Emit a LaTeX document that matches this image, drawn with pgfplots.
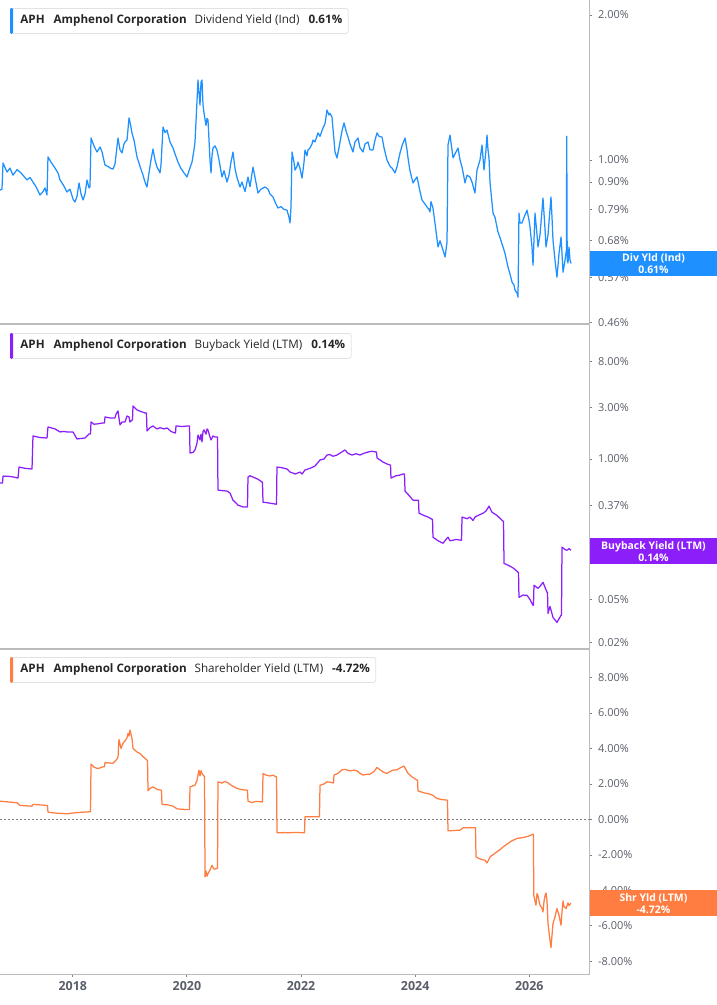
\documentclass[border=0pt]{standalone}
\usepackage{pgfplots}
\pgfplotsset{compat=1.18}
\usepackage{fontspec}
\setmainfont{Open Sans}

\definecolor{divblue}{RGB}{30,144,255}
\definecolor{bbpurple}{RGB}{140,30,250}
\definecolor{shorange}{RGB}{255,125,65}
\definecolor{axisgray}{RGB}{188,188,188}
\definecolor{labgray}{RGB}{90,94,105}
\definecolor{legline}{RGB}{226,226,230}

\pgfplotsset{
  panel/.style={
    scale only axis,
    width=589.5bp,
    xmin=2016.724, xmax=2027.055,
    axis x line=bottom, axis y line=right,
    axis line style={draw=axisgray, line width=1.2bp, -},
    tick align=outside,
    major tick length=2.5bp,
    tick style={draw=gray, line width=0.9bp},
    yticklabel style={font=\fontsize{11}{12}\selectfont, text=labgray, inner sep=0pt, anchor=west, xshift=6bp},
    xticklabel style={font=\bfseries\fontsize{12.5}{14}\selectfont, text=labgray, inner sep=0pt, yshift=-4bp},
    yminorticks=false,
    xtick=\empty,
    clip=false,
  },
  series/.style={line width=1.25bp, line join=round},
}
\tikzset{
  legbox/.style={draw=legline, fill=white, line width=0.8bp, rounded corners=2.5bp,
    inner xsep=0pt, minimum height=25bp, anchor=north west,
    font=\fontsize{11.7}{14}\selectfont, text=black!85},
  valbox/.style={anchor=west, minimum width=127.5bp, minimum height=25.5bp, inner sep=0pt,
    text=white, font=\bfseries\fontsize{10.5}{12}\selectfont, align=center},
}

\begin{document}
\begin{tikzpicture}
\useasboundingbox (0,0) rectangle (717bp,-1005bp);

% ---- dividend yield
\begin{axis}[panel, at={(0bp,0bp)}, anchor=north west, height=324bp,
  ymode=log, ymin=0.4566, ymax=2.1487,
  ytick={0.46,0.57,0.68,0.79,0.9,1,2},
  yticklabels={0.46\%,0.57\%,0.68\%,0.79\%,0.90\%,1.00\%,2.00\%}]
\addplot[series, divblue] coordinates {
(2016.724,0.866) (2016.759,0.870) (2016.777,0.986) (2016.847,0.944) (2016.899,0.962)
(2016.952,0.930) (2017.022,0.955) (2017.075,0.944) (2017.127,0.930) (2017.197,0.909)
(2017.250,0.920) (2017.302,0.900) (2017.355,0.880) (2017.425,0.846) (2017.478,0.860)
(2017.513,0.875) (2017.548,0.846) (2017.565,1.015) (2017.618,0.990) (2017.688,0.962)
(2017.741,0.940) (2017.776,0.909) (2017.828,0.890) (2017.898,0.858) (2017.951,0.870)
(2018.003,0.830) (2018.038,0.818) (2018.073,0.840) (2018.109,0.896) (2018.144,0.850)
(2018.179,0.826) (2018.214,0.850) (2018.249,0.909) (2018.284,0.875) (2018.301,0.880)
(2018.319,1.111) (2018.371,1.070) (2018.424,1.039) (2018.477,1.064) (2018.512,1.040)
(2018.564,0.976) (2018.617,0.970) (2018.669,0.960) (2018.704,0.958) (2018.739,0.980)
(2018.792,1.111) (2018.827,1.050) (2018.862,1.034) (2018.897,1.080) (2018.915,1.090)
(2018.950,1.100) (2018.985,1.223) (2019.002,1.200) (2019.037,1.138) (2019.072,1.100)
(2019.125,1.015) (2019.178,0.970) (2019.230,0.930) (2019.265,0.900) (2019.300,0.879)
(2019.335,0.940) (2019.370,1.000) (2019.405,1.054) (2019.440,1.000) (2019.475,0.967)
(2019.510,0.950) (2019.528,0.940) (2019.546,0.980) (2019.581,1.171) (2019.616,1.140)
(2019.651,1.154) (2019.703,1.090) (2019.756,1.059) (2019.791,1.030) (2019.843,0.990)
(2019.896,0.960) (2019.949,0.940) (2020.001,0.922) (2020.036,0.950) (2020.089,0.990)
(2020.124,1.050) (2020.141,1.090) (2020.159,1.200) (2020.194,1.466) (2020.211,1.380)
(2020.229,1.300) (2020.247,1.450) (2020.264,1.466) (2020.282,1.300) (2020.299,1.252)
(2020.334,1.180) (2020.352,1.220) (2020.369,1.211) (2020.387,1.100) (2020.404,1.000)
(2020.422,0.940) (2020.439,1.020) (2020.457,1.059) (2020.492,1.070) (2020.527,1.049)
(2020.562,1.000) (2020.615,0.922) (2020.650,0.950) (2020.702,0.900) (2020.737,0.930)
(2020.772,0.990) (2020.807,1.039) (2020.842,0.960) (2020.877,0.920) (2020.930,0.879)
(2020.965,0.900) (2021.018,0.860) (2021.070,0.922) (2021.105,0.880) (2021.158,0.967)
(2021.193,0.920) (2021.245,0.854) (2021.298,0.870) (2021.368,0.879) (2021.421,0.870)
(2021.456,0.850) (2021.508,0.838) (2021.561,0.810) (2021.596,0.795) (2021.649,0.800)
(2021.701,0.790) (2021.754,0.787) (2021.789,0.760) (2021.806,0.740) (2021.824,0.800)
(2021.841,1.039) (2021.876,0.990) (2021.894,0.953) (2021.929,0.970) (2021.946,0.990)
(2021.982,0.960) (2022.017,0.917) (2022.052,0.990) (2022.069,1.049) (2022.104,1.020)
(2022.122,1.050) (2022.157,1.059) (2022.192,1.080) (2022.209,1.100) (2022.244,1.090)
(2022.297,1.138) (2022.332,1.120) (2022.385,1.166) (2022.420,1.190) (2022.455,1.270)
(2022.490,1.240) (2022.507,1.250) (2022.542,1.228) (2022.577,1.100) (2022.595,1.039)
(2022.630,1.010) (2022.665,1.060) (2022.683,1.090) (2022.718,1.150) (2022.753,1.194)
(2022.788,1.150) (2022.823,1.116) (2022.858,1.080) (2022.910,1.039) (2022.945,1.090)
(2022.998,1.111) (2023.033,1.060) (2023.086,1.039) (2023.121,1.080) (2023.173,1.090)
(2023.208,1.050) (2023.261,1.049) (2023.296,1.100) (2023.331,1.138) (2023.366,1.120)
(2023.419,1.116) (2023.454,1.060) (2023.506,1.000) (2023.559,0.970) (2023.594,0.962)
(2023.646,0.940) (2023.681,0.967) (2023.734,1.034) (2023.769,1.070) (2023.822,1.111)
(2023.857,1.050) (2023.874,1.010) (2023.909,0.950) (2023.962,0.896) (2023.997,0.910)
(2024.032,0.922) (2024.085,0.860) (2024.120,0.826) (2024.172,0.810) (2024.207,0.799)
(2024.242,0.790) (2024.260,0.780) (2024.277,0.820) (2024.312,0.795) (2024.347,0.740)
(2024.400,0.660) (2024.435,0.680) (2024.470,0.660) (2024.505,0.640) (2024.523,0.629)
(2024.540,0.650) (2024.558,0.676) (2024.575,1.074) (2024.610,1.127) (2024.645,1.050)
(2024.663,1.010) (2024.698,1.030) (2024.751,1.059) (2024.786,1.000) (2024.821,0.967)
(2024.856,0.920) (2024.873,0.896) (2024.908,0.930) (2024.961,0.922) (2024.996,0.900)
(2025.048,0.854) (2025.083,0.953) (2025.136,1.000) (2025.171,1.074) (2025.206,0.953)
(2025.241,1.050) (2025.259,1.127) (2025.276,1.050) (2025.294,1.010) (2025.311,0.900)
(2025.364,0.776) (2025.399,0.760) (2025.451,0.709) (2025.487,0.690) (2025.539,0.660)
(2025.574,0.640) (2025.627,0.599) (2025.662,0.580) (2025.697,0.558) (2025.732,0.550)
(2025.749,0.537) (2025.784,0.530) (2025.802,0.519) (2025.819,0.776) (2025.837,0.740)
(2025.872,0.740) (2025.907,0.760) (2025.960,0.787) (2025.995,0.750) (2026.012,0.726)
(2026.047,0.660) (2026.065,0.605) (2026.100,0.776) (2026.135,0.700) (2026.152,0.660)
(2026.188,0.700) (2026.240,0.834) (2026.275,0.720) (2026.293,0.660) (2026.328,0.700)
(2026.380,0.838) (2026.398,0.760) (2026.415,0.682) (2026.450,0.620) (2026.485,0.571)
(2026.521,0.640) (2026.556,0.692) (2026.573,0.640) (2026.591,0.585) (2026.626,0.620)
(2026.650,0.650) (2026.656,1.120) (2026.664,0.620) (2026.678,0.611) (2026.696,0.660)
(2026.713,0.620) (2026.731,0.610)
};
\coordinate (lab1) at (axis cs:2027.055,0.61);
\end{axis}

% ---- buyback yield
\begin{axis}[panel, at={(0bp,-324bp)}, anchor=north west, height=325bp,
  ymode=log, ymin=0.01741, ymax=17.79,
  ytick={0.02,0.05,0.14,0.37,1,3,8},
  yticklabels={0.02\%,0.05\%,0.14\%,0.37\%,1.00\%,3.00\%,8.00\%}]
\addplot[series, bbpurple] coordinates {
(2016.724,0.599) (2016.768,0.600) (2016.777,0.695) (2016.899,0.690) (2016.969,0.680)
(2017.040,0.666) (2017.057,0.843) (2017.162,0.820) (2017.285,0.808) (2017.302,1.635)
(2017.425,1.580) (2017.548,1.566) (2017.565,1.981) (2017.688,1.900) (2017.776,1.781)
(2017.846,1.800) (2017.898,1.781) (2018.003,1.781) (2018.073,1.533) (2018.144,1.550)
(2018.214,1.566) (2018.284,1.706) (2018.310,1.706) (2018.319,2.205) (2018.371,2.100)
(2018.424,2.113) (2018.529,2.158) (2018.555,2.160) (2018.564,2.453) (2018.652,2.400)
(2018.739,2.401) (2018.757,2.600) (2018.792,2.789) (2018.809,2.400) (2018.827,2.068)
(2018.862,2.200) (2018.915,2.205) (2018.950,2.500) (2018.985,2.453) (2019.002,2.200)
(2019.037,2.301) (2019.046,2.300) (2019.055,3.103) (2019.125,2.849) (2019.195,2.750)
(2019.265,2.672) (2019.291,2.670) (2019.300,1.819) (2019.353,1.950) (2019.405,2.024)
(2019.475,1.898) (2019.528,1.950) (2019.598,1.900) (2019.651,1.939) (2019.721,1.800)
(2019.791,1.743) (2019.800,1.745) (2019.808,2.024) (2019.914,2.000) (2020.019,2.024)
(2020.045,2.020) (2020.054,1.137) (2020.106,1.150) (2020.141,1.212) (2020.176,1.400)
(2020.194,1.670) (2020.229,1.500) (2020.247,1.700) (2020.264,1.438) (2020.282,1.800)
(2020.299,1.858) (2020.334,1.700) (2020.352,1.900) (2020.369,1.858) (2020.404,1.600)
(2020.422,1.501) (2020.457,1.635) (2020.492,1.600) (2020.527,1.600) (2020.536,1.600)
(2020.544,0.516) (2020.615,0.510) (2020.702,0.505) (2020.755,0.484) (2020.807,0.416)
(2020.842,0.400) (2020.895,0.374) (2020.983,0.360) (2021.053,0.359) (2021.061,0.360)
(2021.070,0.681) (2021.105,0.700) (2021.158,0.681) (2021.245,0.650) (2021.316,0.612)
(2021.324,0.610) (2021.333,0.399) (2021.456,0.390) (2021.561,0.382) (2021.570,0.382)
(2021.578,0.843) (2021.666,0.830) (2021.754,0.808) (2021.806,0.757) (2021.859,0.741)
(2021.894,0.726) (2021.982,0.757) (2022.017,0.726) (2022.069,0.791) (2022.157,0.820)
(2022.244,0.861) (2022.332,0.979) (2022.402,1.000) (2022.455,1.089) (2022.507,1.100)
(2022.560,1.060) (2022.630,1.089) (2022.700,1.150) (2022.770,1.212) (2022.823,1.130)
(2022.893,1.089) (2022.963,1.120) (2023.033,1.089) (2023.103,1.130) (2023.173,1.161)
(2023.243,1.180) (2023.313,1.161) (2023.322,1.160) (2023.331,1.022) (2023.384,0.980)
(2023.436,0.938) (2023.506,0.900) (2023.559,0.880) (2023.568,0.880) (2023.576,0.666)
(2023.664,0.700) (2023.734,0.710) (2023.787,0.726) (2023.813,0.726) (2023.822,0.505)
(2023.892,0.460) (2023.962,0.416) (2024.049,0.416) (2024.058,0.416) (2024.067,0.315)
(2024.155,0.300) (2024.225,0.290) (2024.295,0.277) (2024.304,0.277) (2024.312,0.189)
(2024.400,0.175) (2024.488,0.166) (2024.540,0.180) (2024.575,0.189) (2024.610,0.175)
(2024.663,0.177) (2024.715,0.180) (2024.803,0.177) (2024.812,0.177) (2024.821,0.290)
(2024.908,0.280) (2024.961,0.290) (2025.013,0.270) (2025.048,0.290) (2025.101,0.300)
(2025.189,0.315) (2025.241,0.330) (2025.294,0.366) (2025.346,0.322) (2025.434,0.300)
(2025.539,0.266) (2025.548,0.266) (2025.557,0.108) (2025.627,0.104) (2025.697,0.0995)
(2025.749,0.095) (2025.802,0.0894) (2025.811,0.0894) (2025.819,0.0524) (2025.890,0.055)
(2025.960,0.0547) (2026.012,0.050) (2026.065,0.0442) (2026.073,0.0442) (2026.082,0.0678)
(2026.152,0.0635) (2026.205,0.068) (2026.240,0.0722) (2026.275,0.065) (2026.310,0.0583)
(2026.319,0.0583) (2026.328,0.0372) (2026.363,0.0432) (2026.415,0.0342) (2026.485,0.0307)
(2026.556,0.0357) (2026.564,0.036) (2026.573,0.153) (2026.626,0.145) (2026.661,0.143)
(2026.696,0.148) (2026.731,0.143)
};
\coordinate (lab2) at (axis cs:2027.055,0.14);
\end{axis}

% ---- shareholder yield
\begin{axis}[panel, at={(0bp,-649bp)}, anchor=north west, height=325.3bp,
  ymin=-8.725, ymax=9.605,
  ytick={-8,-6,-4,-2,0,2,4,6,8},
  yticklabels={-8.00\%,-6.00\%,-4.00\%,-2.00\%,0.00\%,2.00\%,4.00\%,6.00\%,8.00\%},
  xtick={2018,2020,2022,2024,2026},
  xticklabels={2018,2020,2022,2024,2026}]
\addplot[gray, line width=1.1bp, dash pattern=on 1.6bp off 2.4bp] coordinates {(2016.724,0) (2027.055,0)};
\addplot[series, shorange] coordinates {
(2016.724,1.03) (2016.899,0.98) (2017.022,0.94) (2017.075,0.79) (2017.285,0.75)
(2017.302,0.85) (2017.425,0.82) (2017.548,0.79) (2017.556,0.79) (2017.565,0.41)
(2017.688,0.36) (2017.898,0.32) (2018.073,0.39) (2018.284,0.43) (2018.310,0.43)
(2018.319,3.12) (2018.371,2.95) (2018.424,2.88) (2018.477,2.90) (2018.529,2.97)
(2018.555,2.97) (2018.564,3.21) (2018.652,3.18) (2018.704,3.16) (2018.757,3.34)
(2018.792,3.50) (2018.809,4.51) (2018.845,4.00) (2018.880,4.30) (2018.915,4.43)
(2018.950,4.60) (2018.967,4.85) (2018.985,4.70) (2019.002,5.04) (2019.020,4.80)
(2019.037,4.57) (2019.055,4.00) (2019.125,3.80) (2019.178,3.72) (2019.247,3.50)
(2019.300,3.34) (2019.309,3.34) (2019.318,1.61) (2019.353,1.75) (2019.405,1.84)
(2019.475,1.70) (2019.546,1.65) (2019.554,1.65) (2019.563,0.85) (2019.668,0.82)
(2019.756,0.75) (2019.826,0.60) (2019.931,0.57) (2020.036,0.56) (2020.045,0.56)
(2020.054,1.84) (2020.141,1.93) (2020.176,2.20) (2020.211,2.78) (2020.229,2.45)
(2020.247,2.75) (2020.264,2.59) (2020.299,2.44) (2020.308,2.44) (2020.317,-3.24)
(2020.334,-2.90) (2020.352,-3.20) (2020.369,-3.05) (2020.404,-2.85) (2020.439,-2.58)
(2020.474,-2.80) (2020.527,-2.76) (2020.536,-2.76) (2020.544,2.12) (2020.615,2.05)
(2020.667,2.15) (2020.720,2.06) (2020.790,1.90) (2020.877,1.75) (2020.965,1.68)
(2021.053,1.65) (2021.061,1.65) (2021.070,1.03) (2021.140,0.95) (2021.210,1.02)
(2021.316,0.99) (2021.324,0.99) (2021.333,2.59) (2021.386,2.50) (2021.456,2.45)
(2021.508,2.50) (2021.561,2.40) (2021.570,2.40) (2021.578,-0.75) (2021.719,-0.74)
(2021.806,-0.75) (2021.894,-0.73) (2022.052,-0.75) (2022.060,-0.75) (2022.069,0.15)
(2022.315,0.15) (2022.323,0.15) (2022.332,1.93) (2022.402,2.00) (2022.455,2.12)
(2022.507,2.10) (2022.560,2.06) (2022.569,2.06) (2022.577,2.50) (2022.647,2.60)
(2022.718,2.80) (2022.770,2.82) (2022.858,2.74) (2022.928,2.78) (2022.981,2.74)
(2023.033,2.60) (2023.086,2.50) (2023.156,2.55) (2023.208,2.55) (2023.278,2.70)
(2023.331,2.93) (2023.384,2.80) (2023.454,2.65) (2023.506,2.59) (2023.559,2.70)
(2023.612,2.78) (2023.681,2.80) (2023.734,2.90) (2023.804,3.01) (2023.839,2.80)
(2023.874,2.60) (2023.944,2.40) (2024.032,2.22) (2024.041,2.22) (2024.049,1.61)
(2024.155,1.50) (2024.260,1.43) (2024.312,1.35) (2024.382,1.18) (2024.470,1.12)
(2024.558,1.09) (2024.566,1.09) (2024.575,-0.64) (2024.698,-0.62) (2024.786,-0.60)
(2024.838,-0.47) (2025.048,-0.47) (2025.057,-0.47) (2025.066,-2.11) (2025.118,-2.20)
(2025.171,-2.26) (2025.224,-2.30) (2025.259,-2.45) (2025.311,-2.11) (2025.399,-1.90)
(2025.487,-1.70) (2025.539,-1.55) (2025.627,-1.35) (2025.697,-1.20) (2025.784,-1.07)
(2025.890,-1.02) (2025.977,-0.95) (2026.065,-0.83) (2026.072,-0.83) (2026.079,-4.27)
(2026.100,-4.60) (2026.117,-4.83) (2026.135,-4.17) (2026.152,-4.30) (2026.170,-4.60)
(2026.188,-4.83) (2026.223,-5.00) (2026.240,-5.21) (2026.258,-4.60) (2026.275,-4.30)
(2026.293,-4.14) (2026.310,-4.60) (2026.328,-5.87) (2026.354,-6.60) (2026.380,-7.22)
(2026.415,-5.87) (2026.450,-5.50) (2026.485,-5.02) (2026.521,-5.40) (2026.556,-5.96)
(2026.573,-5.20) (2026.591,-4.59) (2026.608,-4.90) (2026.643,-5.02) (2026.678,-4.70)
(2026.696,-4.85) (2026.731,-4.72)
};
\coordinate (lab3) at (axis cs:2027.055,-4.72);
\end{axis}

% value boxes on the right
\node[valbox, fill=divblue] at (lab1) {Div Yld (Ind)\\0.61\%};
\node[valbox, fill=bbpurple] at (lab2) {Buyback Yield (LTM)\\0.14\%};
\node[valbox, fill=shorange] at (lab3) {Shr Yld (LTM)\\-4.72\%};

% legend boxes
\node[legbox] (L1) at (10bp,-8bp) {\hspace*{10bp}\textbf{APH}\hspace*{9bp}\textbf{Amphenol Corporation}\hspace*{8bp}Dividend Yield (Ind)\hspace*{9bp}\textbf{0.61\%}\hspace*{6bp}};
\fill[divblue, rounded corners=1.2bp] (L1.north west) rectangle ([xshift=3bp]L1.south west);
\node[legbox] (L2) at (10bp,-333bp) {\hspace*{10bp}\textbf{APH}\hspace*{9bp}\textbf{Amphenol Corporation}\hspace*{8bp}Buyback Yield (LTM)\hspace*{9bp}\textbf{0.14\%}\hspace*{6bp}};
\fill[bbpurple, rounded corners=1.2bp] (L2.north west) rectangle ([xshift=3bp]L2.south west);
\node[legbox] (L3) at (10bp,-657bp) {\hspace*{10bp}\textbf{APH}\hspace*{9bp}\textbf{Amphenol Corporation}\hspace*{8bp}Shareholder Yield (LTM)\hspace*{9bp}\textbf{-4.72\%}\hspace*{6bp}};
\fill[shorange, rounded corners=1.2bp] (L3.north west) rectangle ([xshift=3bp]L3.south west);
\end{tikzpicture}
\end{document}
